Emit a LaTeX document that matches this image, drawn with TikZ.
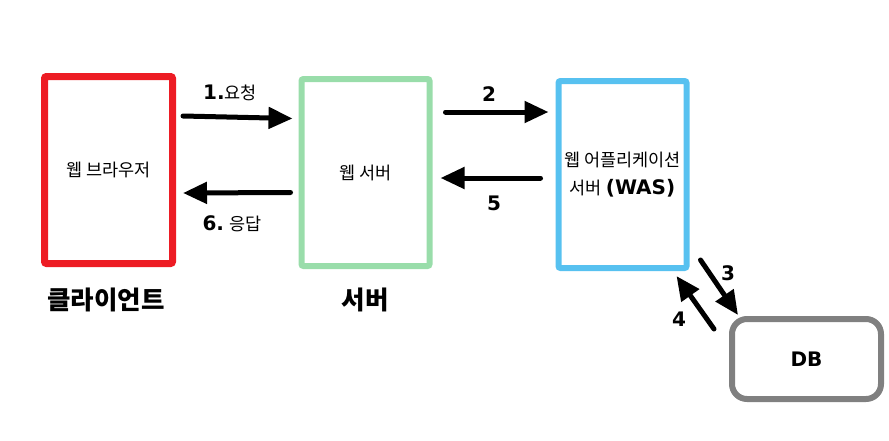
\documentclass[tikz,border=0pt]{standalone}
\usepackage{fontspec}
\setmainfont{Noto Sans CJK KR}
\newfontfamily\latin{DejaVu Sans}
\usetikzlibrary{arrows.meta,calc,positioning}
\definecolor{clientred}{RGB}{237,28,36}
\definecolor{webgreen}{RGB}{153,221,170}
\definecolor{wasblue}{RGB}{87,193,240}
\definecolor{dbgray}{RGB}{128,128,128}

\begin{document}
\begin{tikzpicture}[
    x=1pt, y=-1pt,
    >={Triangle[length=24pt,width=21pt]},
    box/.style   = {draw, rounded corners=2pt, minimum width=128pt, minimum height=187pt, inner sep=0pt, align=center, font=\fontsize{17.5}{28}\selectfont},
    flow/.style  = {->, line width=5pt, line cap=round},
    num/.style   = {font=\fontsize{20}{22}\latin\bfseries},
    title/.style = {font=\fontsize{25.5}{28}\selectfont\bfseries},
  ]
	\useasboundingbox (0,0) rectangle (889,440);
	
	% Kaesten
	\node (client) at (108.5,170) [box, draw=clientred, line width=7pt]{웹 브라우저};
	\node (web) at (365.5,172.5) [box, draw=webgreen, line width=6pt]{웹 서버};
	\node (was) at (622.5,174.5) [box, draw=wasblue, line width=6pt]{웹 어플리케이션\\서버 {\latin\bfseries\fontsize{20}{22}\selectfont (WAS)}};
	\node (db) at (806.5,359) [draw=dbgray, line width=6pt, rounded corners=15pt, minimum width=149pt, minimum height=80pt, num]{DB};
	
	% Beschriftungen
	\node (clientlbl) at (106,300) [title]{클라이언트};
	\node (weblbl) at (365,300) [title]{서버};
	
	% Pfeile Client <-> Webserver
	\draw[flow] ($(client.east)+(7,-54)$) -- ($(web.west)+(-6,-54)$);
	\draw[flow] ($(web.west)+(-8,20)$) -- ($(client.east)+(7,23)$);
	\node (lbl1) at (230,93) [font=\fontsize{17.5}{20}\selectfont]{{\latin\bfseries\fontsize{20}{22}\selectfont 1.}요청};
	\node (lbl6) at (232,224) [font=\fontsize{17.5}{20}\selectfont]{{\latin\bfseries\fontsize{20}{22}\selectfont 6.} 응답};
	
	% Pfeile Webserver <-> WAS
	\draw[flow] ($(web.east)+(13,-60.5)$) -- ($(was.west)+(-7,-62.5)$);
	\draw[flow] ($(was.west)+(-15,3.5)$) -- ($(web.east)+(8,5.5)$);
	\node (lbl2) at (489,94) [num]{2};
	\node (lbl5) at (494,203) [num]{5};
	
	% Pfeile WAS <-> DB
	\draw[flow] ($(was.south east)+(11,-11)$) -- ($(db.north west)+(9,-1)$);
	\draw[flow] ($(db.north west)+(-15,13)$) -- ($(was.south east)+(-13,5)$);
	\node (lbl3) at (728,273) [num]{3};
	\node (lbl4) at (679,319) [num]{4};
	
\end{tikzpicture}
\end{document}
